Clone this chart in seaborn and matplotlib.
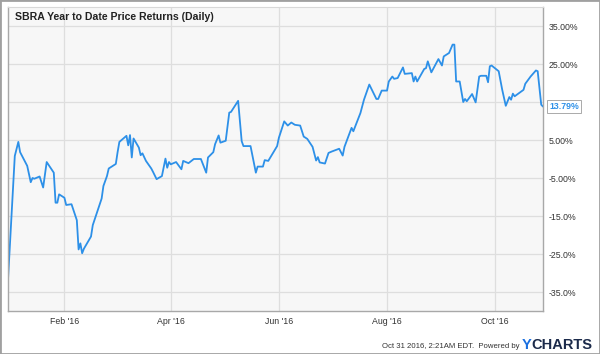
import numpy as np
import pandas as pd
import matplotlib
matplotlib.use("Agg")
import matplotlib.pyplot as plt
import matplotlib.dates as mdates
from matplotlib.patches import Rectangle
import seaborn as sns

# ---- data ----
# day offsets from 2016-01-01 and YTD return in %
days = [-1, 3, 5, 6, 10, 12, 13, 14, 17, 19, 21, 25, 26, 27, 28, 31, 32, 35, 38, 39,
        40, 41, 42, 46, 47, 52, 53, 55, 56, 60, 61, 62, 66, 67, 68, 69, 70, 73, 74, 75,
        77, 80, 81, 83, 86, 88, 89, 90, 91, 94, 97, 98, 101, 104, 108, 111, 112, 115, 116, 118,
        119, 122, 124, 125, 129, 131, 132, 136, 139, 140, 143, 144, 146, 151, 152, 155, 157, 159, 161, 164,
        166, 168, 171, 173, 174, 175, 178, 180, 182, 186, 188, 189, 193, 194, 198, 200, 203, 207, 208, 210,
        213, 214, 216, 217, 219, 222, 223, 227, 228, 229, 230, 234, 235, 236, 238, 242, 244, 245, 248, 250,
        251, 252, 254, 256, 257, 258, 261, 263, 265, 266, 269, 270, 271, 272, 276, 278, 280, 282, 283, 284,
        285, 290, 291, 294, 297, 298, 300, 301]
returns = [-33.2, 0.8, 4.5, 1.8, -1.8, -6.1, -5.0, -5.2, -4.6, -7.5, -0.8, -3.6, -11.5, -11.5, -9.3, -10.2, -12.1, -11.9, -16.1, -23.8,
           -22.2, -24.8, -23.6, -20.4, -17.4, -10.4, -7.1, -4.5, -2.5, -1.3, 1.8, 4.5, 6.1, 3.6, 6.3, 0.4, 5.4, 3.0, 1.0, 1.5,
           -0.5, -2.5, -3.4, -5.3, -4.5, 0.1, -2.3, -0.8, -1.4, -0.8, -2.7, -0.5, -1.1, 0.0, 0.0, -3.6, 0.4, 1.8, 3.9, 6.2,
           4.3, 4.8, 12.2, 12.4, 15.3, 4.7, 3.4, 3.4, -3.6, -2.0, -2.0, -0.3, -0.5, 3.4, 5.6, 9.9, 8.8, 9.6, 9.0, 8.8,
           5.9, 5.3, 3.2, -0.4, 0.5, -0.9, -1.2, 1.6, 2.0, 2.7, 0.9, 3.2, 8.2, 7.3, 12.1, 15.6, 19.6, 15.8, 15.8, 18.0,
           18.0, 20.4, 21.7, 21.1, 21.3, 24.1, 22.4, 22.6, 20.4, 21.7, 20.4, 23.7, 23.9, 25.7, 22.8, 26.3, 24.6, 27.0, 27.9, 30.1,
           30.1, 20.4, 20.4, 15.0, 15.8, 15.2, 17.1, 14.9, 21.7, 21.9, 21.9, 20.2, 24.4, 24.6, 23.1, 18.2, 14.0, 16.3, 15.6, 17.2,
           16.5, 18.2, 19.8, 21.7, 23.3, 23.1, 14.3, 13.79]

y_ticks = [-35, -25, -15, -5, 5, 15, 25, 35]
y_tick_labels = ["-35.0%", "-25.0%", "-15.0%", "-5.00%", "5.00%", "15.00%", "25.00%", "35.00%"]
title = "SBRA Year to Date Price Returns (Daily)"
last_label = "13.79%"
footer = "Oct 31 2016, 2:21AM EDT.  Powered by"

dates = pd.Timestamp("2016-01-01") + pd.to_timedelta(days, unit="D")
df = pd.DataFrame({"date": dates, "ret": returns})

sns.set_style("white")
plt.rcParams["font.family"] = ["Liberation Sans", "DejaVu Sans"]

W, H = 600, 354
fig = plt.figure(figsize=(W / 100, H / 100), dpi=100)
ax = fig.add_axes([7.7 / W, 1 - 311 / H, (543 - 7.7) / W, (311 - 7) / H])
ax.set_facecolor("#f7f7f7")

line_color = "#2d90e8"
sns.lineplot(data=df, x="date", y="ret", ax=ax, color=line_color, linewidth=1.3)

ax.set_xlim(df["date"].iloc[0], df["date"].iloc[-1])
ax.set_ylim(-40, 40)

ax.yaxis.tick_right()
ax.set_yticks(y_ticks)
ax.set_yticklabels(y_tick_labels)
ax.xaxis.set_major_locator(mdates.MonthLocator(bymonth=[2, 4, 6, 8, 10]))
ax.xaxis.set_major_formatter(mdates.DateFormatter("%b '%y"))
ax.tick_params(axis="both", length=0, labelsize=6.3, labelcolor="#333333")
ax.tick_params(axis="y", pad=4)
ax.tick_params(axis="x", pad=4)
ax.set_xlabel("")
ax.set_ylabel("")
ax.grid(True, color="#dedede", linewidth=0.9)
ax.set_axisbelow(True)

for side in ["left", "bottom", "right"]:
    ax.spines[side].set_color("#a8a8a8")
    ax.spines[side].set_linewidth(1.0)
ax.spines["top"].set_color("#d8d8d8")
ax.spines["top"].set_linewidth(0.8)

ax.text(0.0136, 0.968, title, transform=ax.transAxes, ha="left", va="center",
        fontsize=7.6, fontweight="bold", color="#222222")

ax.annotate(last_label, xy=(df["date"].iloc[-1], df["ret"].iloc[-1]),
            xytext=(4.5, 0), textcoords="offset points", ha="left", va="center",
            fontsize=6.3, fontweight="bold", color=line_color, annotation_clip=False,
            bbox=dict(boxstyle="square,pad=0.25", fc="white", ec="#aaaaaa", lw=0.7),
            zorder=10)

fig.text(519 / W, 1 - 346 / H, footer, ha="right", va="center", fontsize=5.6, color="#333333")
charts_txt = fig.text(592 / W, 1 - 345 / H, "CHARTS", ha="right", va="center", fontsize=10.5,
                      fontweight="bold", color="#1b2a4a")
fig.canvas.draw()
bb = charts_txt.get_window_extent(renderer=fig.canvas.get_renderer())
fig.text(bb.x0 / W, 1 - 345 / H, "Y", ha="right", va="center", fontsize=10.5,
         fontweight="bold", color="#1a6fe0")

fig.patches.append(Rectangle((0, 0), 1, 1, transform=fig.transFigure, fill=False,
                             ec="#a0a0a0", lw=2.0, zorder=0))

fig.savefig("out.png", dpi=100, facecolor="white")
